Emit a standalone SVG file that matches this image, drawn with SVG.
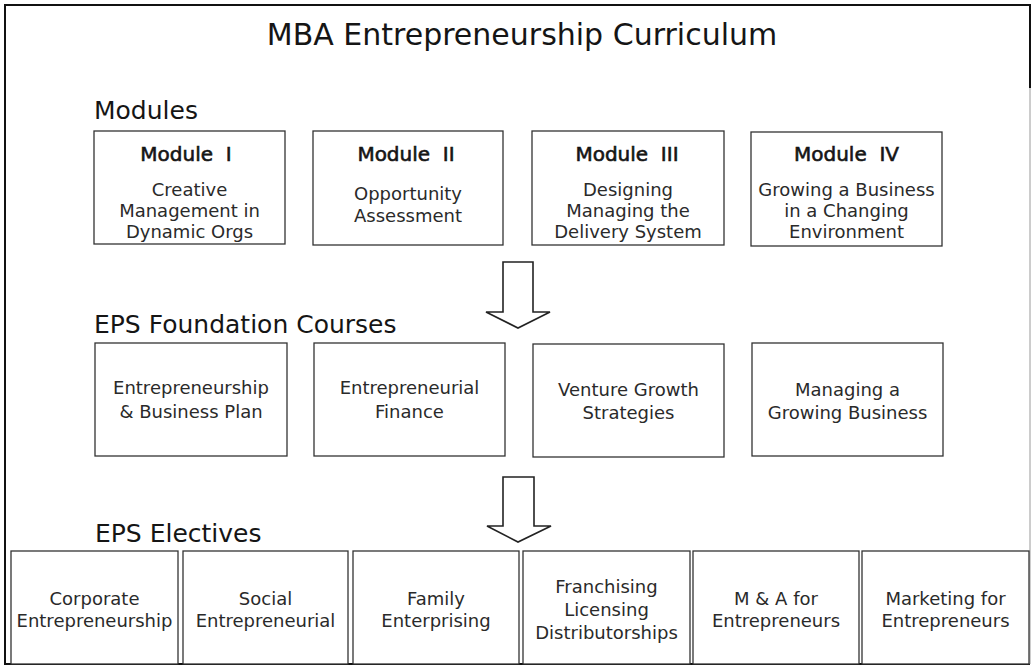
<svg xmlns="http://www.w3.org/2000/svg" width="1031" height="666" viewBox="0 0 1031 666">
<style>
  .frame { fill: none; stroke: #111; stroke-width: 2; }
  .box { fill: #fff; stroke: #333; stroke-width: 1.3; }
  .arrow { fill: #fff; stroke: #222; stroke-width: 1.6; stroke-linejoin: miter; }
  text { font-family: "DejaVu Sans", "Liberation Sans", sans-serif; fill: #151515; }
  .title { font-size: 30px; text-anchor: middle; }
  .section { font-size: 25px; }
  .mod { font-size: 20px; text-anchor: middle; stroke: #151515; stroke-width: 0.6; white-space: pre; }
  .body { font-size: 18px; text-anchor: middle; fill: #2a2a2a; }
</style>
<rect width="1031" height="666" fill="#fff"/>
<g id="frame">
  <path class="frame" d="M1030,88 V5 H5 V664 H1030"/>
  <path d="M1030,88 V664" stroke="#bbb" stroke-width="1.5" fill="none"/>
</g>
<text class="title" x="522" y="45">MBA Entrepreneurship Curriculum</text>
<text class="section" x="94" y="119">Modules</text>
<text class="section" x="94" y="333">EPS Foundation Courses</text>
<text class="section" x="95" y="542">EPS Electives</text>

<g id="module-1">
  <rect class="box" x="94" y="131" width="191" height="113"/>
  <text class="mod" x="186" y="161" xml:space="preserve">Module  I</text>
  <text class="body" x="189.5" y="196">Creative</text>
  <text class="body" x="189.5" y="217">Management in</text>
  <text class="body" x="189.5" y="238">Dynamic Orgs</text>
</g>
<g id="module-2">
  <rect class="box" x="313" y="131" width="190" height="114"/>
  <text class="mod" x="406" y="161" xml:space="preserve">Module  II</text>
  <text class="body" x="408" y="200">Opportunity</text>
  <text class="body" x="408" y="222">Assessment</text>
</g>
<g id="module-3">
  <rect class="box" x="532" y="131" width="192" height="114"/>
  <text class="mod" x="627" y="161" xml:space="preserve">Module  III</text>
  <text class="body" x="628" y="196">Designing</text>
  <text class="body" x="628" y="217">Managing the</text>
  <text class="body" x="628" y="238">Delivery System</text>
</g>
<g id="module-4">
  <rect class="box" x="751" y="132" width="191" height="114"/>
  <text class="mod" x="846.5" y="161" xml:space="preserve">Module  IV</text>
  <text class="body" x="846.5" y="196">Growing a Business</text>
  <text class="body" x="846.5" y="217">in a Changing</text>
  <text class="body" x="846.5" y="238">Environment</text>
</g>

<g id="foundation-1">
  <rect class="box" x="95" y="343" width="192" height="113"/>
  <text class="body" x="191" y="394">Entrepreneurship</text>
  <text class="body" x="191" y="418">&amp; Business Plan</text>
</g>
<g id="foundation-2">
  <rect class="box" x="314" y="343" width="191" height="113"/>
  <text class="body" x="409.5" y="394">Entrepreneurial</text>
  <text class="body" x="409.5" y="418">Finance</text>
</g>
<g id="foundation-3">
  <rect class="box" x="533" y="344" width="191" height="113"/>
  <text class="body" x="628.5" y="396">Venture Growth</text>
  <text class="body" x="628.5" y="419">Strategies</text>
</g>
<g id="foundation-4">
  <rect class="box" x="752" y="343" width="191" height="113"/>
  <text class="body" x="847.5" y="396">Managing a</text>
  <text class="body" x="847.5" y="419">Growing Business</text>
</g>

<g id="elective-1">
  <rect class="box" x="11" y="551" width="167" height="113"/>
  <text class="body" x="94.5" y="605">Corporate</text>
  <text class="body" x="94.5" y="627">Entrepreneurship</text>
</g>
<g id="elective-2">
  <rect class="box" x="183" y="551" width="165" height="113"/>
  <text class="body" x="265.5" y="605">Social</text>
  <text class="body" x="265.5" y="627">Entrepreneurial</text>
</g>
<g id="elective-3">
  <rect class="box" x="353" y="551" width="166" height="113"/>
  <text class="body" x="436" y="605">Family</text>
  <text class="body" x="436" y="627">Enterprising</text>
</g>
<g id="elective-4">
  <rect class="box" x="523" y="551" width="167" height="113"/>
  <text class="body" x="606.5" y="593">Franchising</text>
  <text class="body" x="606.5" y="616">Licensing</text>
  <text class="body" x="606.5" y="639">Distributorships</text>
</g>
<g id="elective-5">
  <rect class="box" x="693" y="551" width="166" height="113"/>
  <text class="body" x="776" y="605">M &amp; A for</text>
  <text class="body" x="776" y="627">Entrepreneurs</text>
</g>
<g id="elective-6">
  <rect class="box" x="862" y="551" width="167" height="113"/>
  <text class="body" x="945.5" y="605">Marketing for</text>
  <text class="body" x="945.5" y="627">Entrepreneurs</text>
</g>

<g id="connectors">
  <path class="arrow" d="M503,262 H533 V312 H550 L518,328 L486,312 H503 Z"/>
  <path class="arrow" d="M503,477 H534 V526 H551 L518,542 L487,526 H503 Z"/>
</g>
</svg>
